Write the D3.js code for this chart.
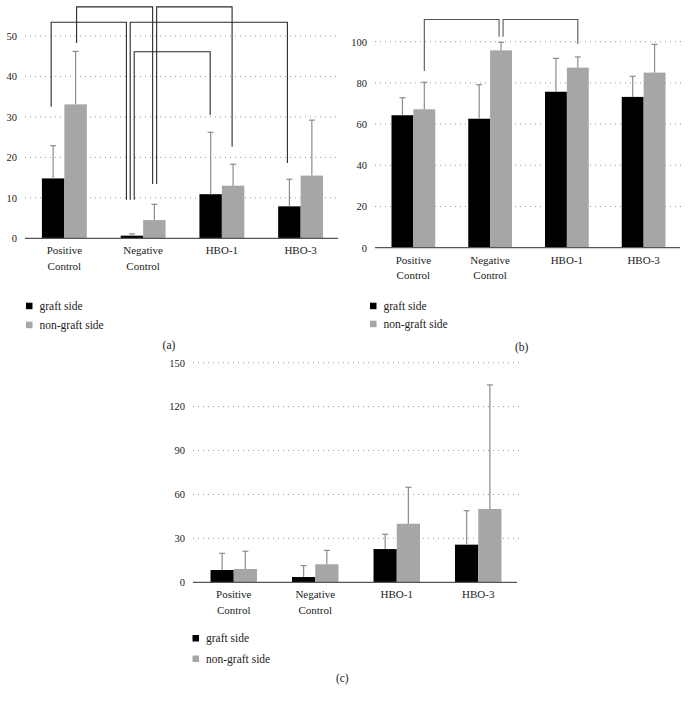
<!DOCTYPE html>
<html>
<head>
<meta charset="utf-8">
<script src="https://cdn.jsdelivr.net/npm/d3@7"></script>
<style>
  body { margin: 0; background: #fff; }
  svg { display: block; }
  svg text { font-family: "Liberation Serif", "Times New Roman", "DejaVu Serif", serif !important; fill: #222; }
</style>
</head>
<body>
<svg id="chart" width="689" height="701"></svg>
<script>
// ---------- DATA ----------
const categories = ["Positive Control", "Negative Control", "HBO-1", "HBO-3"];
const seriesNames = ["graft side", "non-graft side"];

// Panel (a)
const ticksA = [0, 10, 20, 30, 40, 50];
const graftA = [14.8, 0.65, 10.9, 7.9];
const graftSdA = [8.1, 0.45, 15.3, 6.7];
const nonGraftA = [33.1, 4.5, 13.0, 15.5];
const nonGraftSdA = [13.1, 3.9, 5.3, 13.7];
// brackets: [fromCat, fromSeries, fromLevel, topLevel, toCat, toSeries, toLevel]
const bracketsA = [
  [0, 0, 32.5, 53.4, 1, 0, 9.5],
  [0, 1, 48.3, 57.2, 1, 1, 13.4],
  [1, 0, 9.5, 53.4, 3, 0, 18.6],
  [1, 0, 9.5, 46.1, 2, 0, 30.5],
  [1, 1, 13.4, 57.2, 2, 1, 22.6]
];

// Panel (b)
const ticksB = [0, 20, 40, 60, 80, 100];
const graftB = [64.3, 62.6, 75.7, 73.2];
const graftSdB = [8.5, 16.5, 16.2, 10.0];
const nonGraftB = [67.2, 95.8, 87.4, 85.0];
const nonGraftSdB = [13.1, 3.9, 5.2, 13.7];
const bracketsB = [
  [0, 1, 85.8, 110.8, 1, 1, 102.4],
  [1, 1, 102.4, 110.8, 2, 1, 98.9]
];

// Panel (c)
const ticksC = [0, 30, 60, 90, 120, 150];
const graftC = [8.4, 3.6, 22.7, 25.7];
const graftSdC = [11.4, 7.8, 10.1, 23.2];
const nonGraftC = [9.1, 12.3, 40.0, 50.1];
const nonGraftSdC = [12.1, 9.5, 24.9, 84.7];
const bracketsC = [];

// ---------- LAYOUT / STYLE ----------
const FONT = '"Liberation Serif", "Times New Roman", "DejaVu Serif", serif';
const colors = ["#000000", "#a6a6a6"];
const errColor = "#8c8c8c";

// pixel nudges for bracket legs (so overlapping legs stay visible)
const bracketDxA = [[-2, -5.5], [1, -1.7], [-1.7, -2], [2.3, -0.5], [2.3, -1]];
const bracketDxB = [[0, -2], [2, 0]];

const panels = [
  { label: "(a)", x: [25, 340], y: [238.3, 36], maxTick: 50, ticks: ticksA,
    values: [graftA, nonGraftA], sds: [graftSdA, nonGraftSdA],
    brackets: bracketsA, bdx: bracketDxA, bracketColor: "#2a2a2a",
    legend: { x: 26, y: 302.7, gap: 19 }, labelPos: [169, 345] },
  { label: "(b)", x: [375, 682], y: [247.7, 41.7], maxTick: 100, ticks: ticksB,
    values: [graftB, nonGraftB], sds: [graftSdB, nonGraftSdB],
    brackets: bracketsB, bdx: bracketDxB, bracketColor: "#555",
    legend: { x: 370, y: 302.7, gap: 18 }, labelPos: [521.7, 347.3] },
  { label: "(c)", x: [193, 519], y: [582.3, 362.7], maxTick: 150, ticks: ticksC,
    values: [graftC, nonGraftC], sds: [graftSdC, nonGraftSdC],
    brackets: bracketsC, bdx: [], bracketColor: "#555",
    legend: { x: 192.5, y: 635, gap: 20.5 }, labelPos: [342.3, 678.3] }
];

const svg = d3.select("#chart");

panels.forEach(p => {
  const g = svg.append("g");
  const x = d3.scaleBand().domain(categories).range(p.x).paddingInner(0.43).paddingOuter(0.215);
  const xs = d3.scaleBand().domain([0, 1]).range([0, x.bandwidth()]).padding(0);
  const y = d3.scaleLinear().domain([0, p.maxTick]).range(p.y);

  // gridlines
  g.selectAll("line.grid").data(p.ticks.filter(t => t > 0)).join("line")
    .attr("x1", p.x[0]).attr("x2", p.x[1])
    .attr("y1", d => y(d)).attr("y2", d => y(d))
    .attr("stroke", "#9a9a9a").attr("stroke-width", 1)
    .attr("stroke-dasharray", "1,4");

  // y tick labels via axis
  const yAxis = d3.axisLeft(y).tickValues(p.ticks).tickSize(0).tickPadding(8).tickFormat(d3.format("d"));
  const ya = g.append("g").attr("transform", `translate(${p.x[0]},0)`).call(yAxis)
    .attr("font-family", FONT);
  ya.select(".domain").remove();
  ya.selectAll("text").attr("font-size", 10.5).attr("fill", "#222");

  // bars
  p.values.forEach((vals, si) => {
    g.selectAll(null).data(vals).join("rect")
      .attr("x", (d, i) => x(categories[i]) + xs(si))
      .attr("width", xs.bandwidth())
      .attr("y", d => y(d))
      .attr("height", d => y(0) - y(d))
      .attr("fill", colors[si]);
  });

  // error bars
  p.values.forEach((vals, si) => {
    vals.forEach((v, i) => {
      const cx = x(categories[i]) + xs(si) + xs.bandwidth() / 2;
      const top = y(v + p.sds[si][i]);
      g.append("line").attr("x1", cx).attr("x2", cx).attr("y1", y(v)).attr("y2", top)
        .attr("stroke", errColor).attr("stroke-width", 1.2);
      g.append("line").attr("x1", cx - 3).attr("x2", cx + 3).attr("y1", top).attr("y2", top)
        .attr("stroke", errColor).attr("stroke-width", 1.2);
    });
  });

  // x axis line
  g.append("line").attr("x1", p.x[0]).attr("x2", p.x[1] - 2)
    .attr("y1", y(0)).attr("y2", y(0)).attr("stroke", "#555").attr("stroke-width", 1.2);

  // category labels
  categories.forEach(c => {
    const cx = x(c) + x.bandwidth() / 2;
    c.split(" ").forEach((t, li) => {
      g.append("text").attr("x", cx).attr("y", y(0) + 12 + li * 15.5)
        .attr("text-anchor", "middle").attr("dominant-baseline", "central")
        .attr("font-family", FONT).attr("font-size", 11).text(t);
    });
  });

  // significance brackets
  p.brackets.forEach((b, bi) => {
    const [fc, fs, fl, tl, tc, ts, tol] = b;
    const dx = p.bdx[bi] || [0, 0];
    const x1 = x(categories[fc]) + xs(fs) + xs.bandwidth() / 2 + dx[0];
    const x2 = x(categories[tc]) + xs(ts) + xs.bandwidth() / 2 + dx[1];
    g.append("path")
      .attr("d", `M${x1},${y(fl)}V${y(tl)}H${x2}V${y(tol)}`)
      .attr("fill", "none").attr("stroke", p.bracketColor).attr("stroke-width", 1.1);
  });

  // legend
  seriesNames.forEach((n, si) => {
    const ly = p.legend.y + si * p.legend.gap;
    g.append("rect").attr("x", p.legend.x).attr("y", ly).attr("width", 6.5).attr("height", 6.5)
      .attr("fill", colors[si]);
    g.append("text").attr("x", p.legend.x + 13.5).attr("y", ly + 3.2)
      .attr("dominant-baseline", "central").attr("font-family", FONT)
      .attr("font-size", 11.5).text(n);
  });

  // panel label
  g.append("text").attr("x", p.labelPos[0]).attr("y", p.labelPos[1])
    .attr("text-anchor", "middle").attr("dominant-baseline", "central")
    .attr("font-family", FONT).attr("font-size", 11.5).text(p.label);
});
</script>
</body>
</html>
